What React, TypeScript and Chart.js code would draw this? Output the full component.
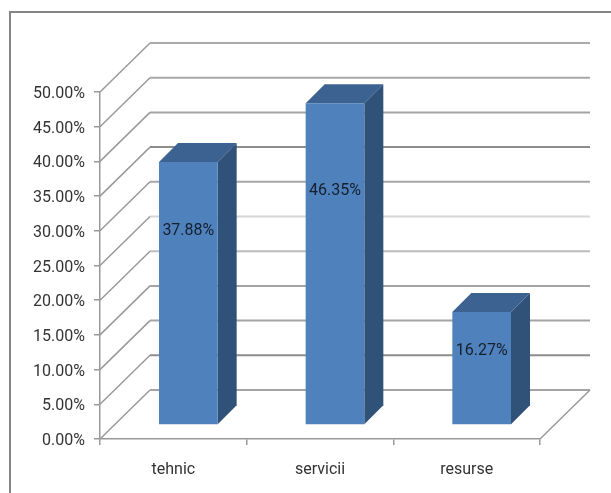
import React, { useEffect, useRef } from "react";
import { Chart, registerables } from "chart.js";

Chart.register(...registerables);

const categories = ["tehnic", "servicii", "resurse"];
const shares = [37.88, 46.35, 16.27];
const labelLevels = [28.0, 33.7, 10.6];
const gridShades = ["#a4a4a4", "#8c8c8c", "#a4a4a4", "#a4a4a4", "#bcbcbc", "#d6d6d6", "#a6a6a6", "#8c8c8c", "#a4a4a4", "#a8a8a8", "#aaaaaa"];

const FONT = 'Roboto, "Liberation Sans", sans-serif';
const WALL_DX = 50;
const WALL_DY = 49;
const BAR_DX = 15;
const BAR_DY = 14;
const BAR_DEPTH = 19;

const wallPlugin = {
  id: "wall",
  beforeDatasetsDraw(chart: any) {
    const { ctx, scales } = chart;
    const { left, right } = chart.chartArea;
    const y = scales.y;
    ctx.save();
    y.ticks.forEach((t: any, i: number) => {
      const py = y.getPixelForValue(t.value);
      ctx.lineWidth = 1.5;
      ctx.strokeStyle = "#999999";
      ctx.beginPath();
      ctx.moveTo(left, py);
      ctx.lineTo(left + WALL_DX, py - WALL_DY);
      ctx.stroke();
      ctx.lineWidth = 2;
      ctx.strokeStyle = gridShades[i] || "#a4a4a4";
      ctx.beginPath();
      ctx.moveTo(left + WALL_DX, py - WALL_DY);
      ctx.lineTo(right + WALL_DX, py - WALL_DY);
      ctx.stroke();
    });
    const floor = y.getPixelForValue(0);
    ctx.lineWidth = 1.5;
    ctx.strokeStyle = "#999999";
    ctx.beginPath();
    ctx.moveTo(right, floor);
    ctx.lineTo(right + WALL_DX, floor - WALL_DY);
    ctx.stroke();

    ctx.translate(BAR_DX, -BAR_DY);
    chart.getDatasetMeta(0).data.forEach((bar: any) => {
      const l = bar.x - bar.width / 2;
      const r = bar.x + bar.width / 2;
      const d = BAR_DEPTH;
      ctx.fillStyle = "#3c6292";
      ctx.beginPath();
      ctx.moveTo(l, bar.y);
      ctx.lineTo(l + d, bar.y - d);
      ctx.lineTo(r + d, bar.y - d);
      ctx.lineTo(r, bar.y);
      ctx.closePath();
      ctx.fill();
      ctx.fillStyle = "#305278";
      ctx.beginPath();
      ctx.moveTo(r, bar.y);
      ctx.lineTo(r + d, bar.y - d);
      ctx.lineTo(r + d, bar.base - d);
      ctx.lineTo(r, bar.base);
      ctx.closePath();
      ctx.fill();
    });
    ctx.restore();
    ctx.save();
    ctx.translate(BAR_DX, -BAR_DY);
  },
  afterDatasetsDraw(chart: any) {
    const { ctx, scales } = chart;
    ctx.restore();
    ctx.save();
    ctx.font = `16px ${FONT}`;
    ctx.fillStyle = "#15202c";
    ctx.textAlign = "center";
    ctx.textBaseline = "middle";
    chart.getDatasetMeta(0).data.forEach((bar: any, i: number) => {
      const ly = scales.y.getPixelForValue(labelLevels[i]);
      ctx.fillText(shares[i].toFixed(2) + "%", bar.x + BAR_DX, ly - BAR_DY);
    });
    ctx.strokeStyle = "#858585";
    ctx.lineWidth = 2;
    ctx.beginPath();
    ctx.moveTo(10, 493);
    ctx.lineTo(10, 12);
    ctx.lineTo(611, 12);
    ctx.stroke();
    ctx.restore();
  },
};

export default function App() {
  const ref = useRef<HTMLCanvasElement>(null);
  useEffect(() => {
    const chart = new Chart(ref.current as HTMLCanvasElement, {
      type: "bar",
      data: {
        labels: categories,
        datasets: [
          {
            data: shares,
            backgroundColor: "#4f81bd",
            barPercentage: 0.4,
            categoryPercentage: 1,
            clip: false,
          } as any,
        ],
      },
      plugins: [wallPlugin],
      options: {
        responsive: false,
        animation: false,
        layout: { padding: { top: 92, right: 71, left: 0, bottom: 0 } },
        plugins: { legend: { display: false }, tooltip: { enabled: false } },
        scales: {
          x: {
            afterFit: (s: any) => {
              s.height = 54;
            },
            border: { color: "#999999", width: 1.5 },
            grid: { drawOnChartArea: false, color: "#999999", tickLength: 6, lineWidth: 1.5 },
            ticks: { font: { family: FONT, size: 16 }, color: "#333333", padding: 15, maxRotation: 0 },
          },
          y: {
            min: 0,
            max: 50,
            afterFit: (s: any) => {
              s.width = 100;
            },
            border: { color: "#999999", width: 1.5 },
            grid: { drawOnChartArea: false, color: "#999999", tickLength: 6, lineWidth: 1.5 },
            ticks: {
              stepSize: 5,
              font: { family: FONT, size: 16 },
              color: "#333333",
              padding: 9,
              labelOffset: 2,
              callback: (v: any) => Number(v).toFixed(2) + "%",
            },
          },
        },
      },
    } as any);
    return () => chart.destroy();
  }, []);
  return (
    <div style={{ position: "fixed", left: 0, top: 0, width: 611, height: 493, background: "#fff" }}>
      <canvas ref={ref} width={611} height={493} style={{ display: "block" }} />
    </div>
  );
}
